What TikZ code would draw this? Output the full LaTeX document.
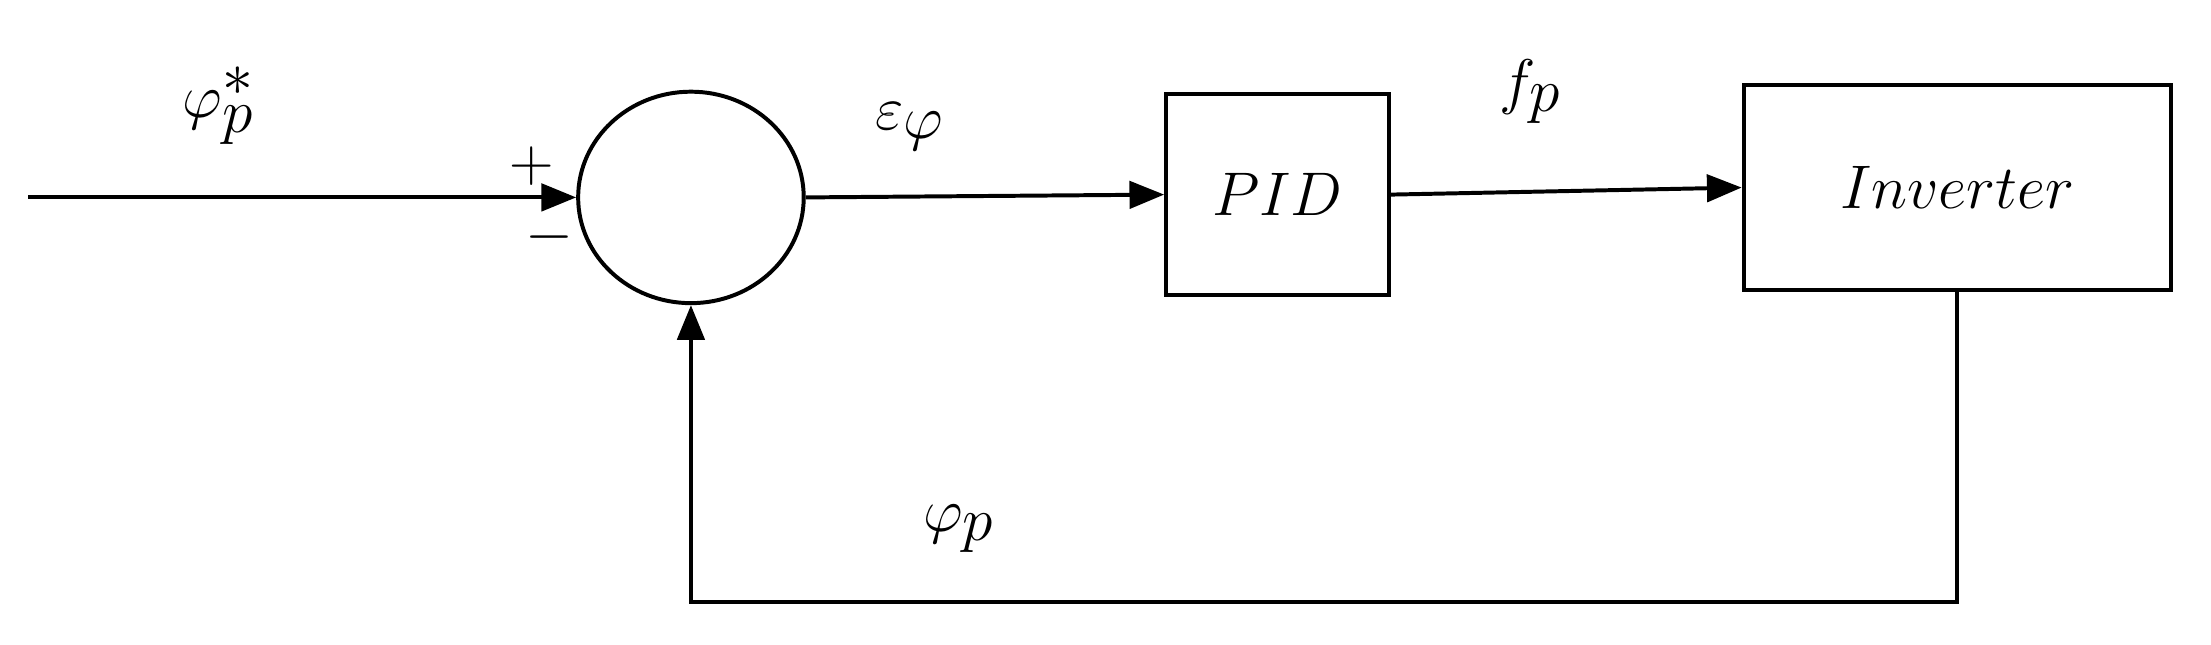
\documentclass[tikz,border=0pt]{standalone}
\usetikzlibrary{arrows.meta,shapes.geometric}
\begin{document}
\begin{tikzpicture}[x=0.02cm,y=-0.02cm,
  blk/.style={draw,line width=1.6pt,inner sep=0pt,font=\fontsize{38}{44}\selectfont},
  conn/.style={line width=1.6pt,-{Triangle[length=14pt,width=11pt]}},
  lbl/.style={font=\fontsize{40}{46}\selectfont}]
\useasboundingbox (0,0) rectangle (1568,457);
\coordinate (in) at (20,140);
\node[draw,line width=1.6pt,ellipse,minimum width=3.2cm,minimum height=3cm,inner sep=0pt] (sum) at (490,140) {};
\node[blk,minimum width=3.16cm,minimum height=2.86cm] (pid) at (906,138) {$PID$};
\node[blk,minimum width=6.06cm,minimum height=2.9cm] (inv) at (1388,133) {$Inverter$};
\draw[conn] (in) -- (sum.west);
\draw[conn] (sum.east) -- (pid.west);
\draw[conn] (pid.east) -- (inv.west);
\coordinate (c1) at (1388,427);
\coordinate (c2) at (490,427);
\draw[conn] (inv.south) -- (c1) -- (c2) -- (sum.south);
\node[lbl] (l1) at (155,75) {$\varphi_p^*$};
\node[lbl] (l2) at (377,118) {$+$};
\node[lbl] (l3) at (390,168) {$-$};
\node[lbl] (l4) at (645,90) {$\varepsilon_\varphi$};
\node[lbl] (l5) at (1085,65) {$f_p$};
\node[lbl] (l6) at (680,375) {$\varphi_p$};
\end{tikzpicture}
\end{document}
